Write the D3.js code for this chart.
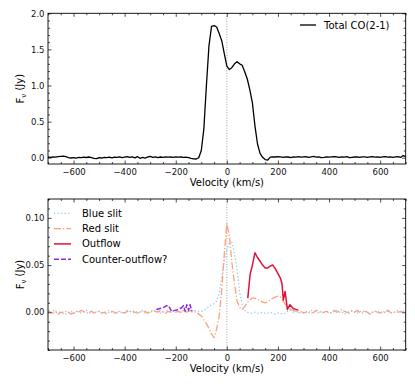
<!DOCTYPE html>
<html>
<head>
<meta charset="utf-8">
<script src="https://cdn.jsdelivr.net/npm/d3@7"></script>
<style>
  body { margin: 0; background: #fff; }
  text { font-family: "DejaVu Sans", sans-serif; }
</style>
</head>
<body>
<div id="chart"></div>
<script>
// velocity channels (km/s), shared by the total spectrum and the two slits
const velocity = [
  -700,-690,-680,-670,-660,-650,-640,-630,-620,-610,
  -600,-590,-580,-570,-560,-550,-540,-530,-520,-510,
  -500,-490,-480,-470,-460,-450,-440,-430,-420,-410,
  -400,-390,-380,-370,-360,-350,-340,-330,-320,-310,
  -300,-290,-280,-270,-260,-250,-240,-230,-220,-210,
  -200,-190,-180,-170,-160,-150,-140,-130,-120,-110,
  -100,-90,-80,-70,-60,-50,-40,-30,-20,-10,
  0,10,20,30,40,50,60,70,80,90,
  100,110,120,130,140,150,160,170,180,190,
  200,210,220,230,240,250,260,270,280,290,
  300,310,320,330,340,350,360,370,380,390,
  400,410,420,430,440,450,460,470,480,490,
  500,510,520,530,540,550,560,570,580,590,
  600,610,620,630,640,650,660,670,680,690,700
];

// Total CO(2-1) flux (Jy)
const totalCO = [
  0.010,0.005,0.010,0.008,0.015,0.020,0.022,0.015,0.002,-0.004,
  0.000,-0.006,0.004,0.000,0.008,0.003,0.010,0.002,-0.008,-0.014,
  0.000,-0.004,0.005,0.001,0.009,-0.002,0.008,0.004,0.012,0.001,
  0.008,0.014,0.004,0.011,-0.002,0.016,-0.008,0.004,-0.006,0.010,
  0.018,0.004,0.013,0.001,0.010,0.005,0.012,0.008,0.010,0.006,
  0.011,0.008,0.010,0.006,0.008,0.002,-0.008,-0.015,-0.018,0.000,
  0.100,0.400,1.000,1.550,1.820,1.830,1.810,1.720,1.620,1.440,
  1.270,1.220,1.250,1.300,1.330,1.300,1.280,1.190,1.090,0.940,
  0.760,0.440,0.190,0.060,0.005,-0.025,-0.032,0.008,0.012,0.010,
  0.014,0.012,0.006,0.013,0.010,0.002,0.012,0.009,0.014,0.007,
  0.011,0.015,0.006,0.012,0.018,0.008,0.012,0.002,0.006,0.012,
  0.009,0.013,0.015,0.011,0.004,0.012,0.008,0.014,0.002,0.006,
  0.010,0.013,0.005,0.011,0.013,0.006,0.011,0.015,0.008,0.012,
  0.004,0.011,0.015,0.008,0.013,0.006,0.012,0.014,0.004,0.030,0.015
];

// slit spectra (Jy)
const blueSlit = [
  0.001,-0.001,0.002,0.000,-0.001,0.001,0.000,-0.002,0.000,0.001,
  -0.001,0.000,0.001,-0.001,0.000,0.002,0.000,-0.001,0.001,0.000,
  0.001,0.000,-0.001,0.001,0.002,0.000,-0.001,0.000,0.001,-0.001,
  0.000,0.002,0.001,0.000,-0.001,0.001,0.000,0.002,-0.001,0.000,
  0.001,0.000,0.002,0.001,-0.001,0.000,0.001,0.002,0.000,0.001,
  0.002,0.000,0.001,0.002,0.000,0.001,0.000,0.001,0.002,0.001,
  0.001,0.002,0.004,0.006,0.008,0.009,0.012,0.020,0.038,0.055,
  0.066,0.074,0.074,0.062,0.045,0.022,0.008,0.002,0.000,-0.001,
  -0.001,0.000,-0.001,-0.001,0.000,-0.001,-0.001,0.000,-0.001,-0.002,
  -0.001,-0.001,-0.002,-0.001,0.002,0.002,0.000,0.001,0.000,-0.001,
  0.000,0.001,-0.001,0.002,0.001,0.000,-0.001,0.001,0.000,0.001,
  0.000,-0.001,0.001,0.002,0.000,0.001,-0.002,0.000,0.001,0.002,
  0.000,-0.001,0.001,0.000,0.002,0.000,-0.002,0.000,0.001,0.000,
  0.001,-0.001,0.000,0.001,0.000,-0.001,0.001,0.002,0.000,0.001,0.002
];

const redSlit = [
  0.002,0.000,-0.001,0.001,-0.002,0.000,-0.001,0.001,0.000,-0.002,
  -0.001,0.001,0.000,0.002,0.001,-0.001,0.000,0.001,-0.001,0.000,
  0.001,-0.001,0.000,-0.002,0.000,0.001,0.000,-0.001,0.001,0.000,
  -0.001,0.001,0.000,0.002,0.000,-0.001,0.001,0.000,0.001,-0.001,
  0.000,0.002,0.001,0.000,0.002,0.000,-0.001,0.001,0.000,0.002,
  0.000,0.001,0.000,0.002,0.000,0.001,0.002,0.001,0.000,-0.002,
  -0.004,-0.008,-0.012,-0.017,-0.023,-0.027,-0.018,-0.004,0.024,0.062,
  0.094,0.080,0.052,0.030,0.012,0.005,0.003,0.006,0.010,0.013,
  0.015,0.015,0.014,0.012,0.011,0.010,0.011,0.013,0.015,0.016,
  0.017,0.016,0.012,0.008,0.004,0.003,0.002,0.001,0.000,0.001,
  -0.001,0.000,0.001,-0.001,0.000,0.002,0.001,-0.001,0.000,0.001,
  -0.001,0.000,0.002,0.000,0.001,0.003,0.001,0.000,-0.001,0.001,
  0.000,0.002,0.000,-0.001,0.001,0.000,-0.002,0.000,0.001,0.000,
  -0.001,0.001,0.000,0.002,0.000,-0.001,0.001,0.000,0.001,0.000,0.001
];

// outflow and counter-outflow components
const outflowV = [82, 91, 100, 110, 120, 130, 140, 150, 160, 170, 180, 190, 200, 210, 216, 221, 228, 237, 247, 260, 270, 280];
const outflowF = [0.015, 0.040, 0.050, 0.063, 0.058, 0.054, 0.050, 0.047, 0.047, 0.049, 0.050, 0.046, 0.041, 0.036, 0.030, 0.013, 0.022, 0.003, 0.008, 0.004, 0.003, 0.002];
const counterV = [-276, -262, -249, -236, -229, -216, -203, -190, -183, -176, -170, -163, -157, -150, -144, -137];
const counterF = [0.003, 0.004, 0.005, 0.007, 0.007, 0.001, 0.002, 0.003, 0.004, 0.005, 0.007, 0.001, 0.008, 0.002, 0.008, 0.001];

// ticks
const xTicks = [-600, -400, -200, 0, 200, 400, 600];
const topYTicks = [0.0, 0.5, 1.0, 1.5, 2.0];
const bottomYTicks = [0.00, 0.05, 0.10];

const width = 415, height = 385;
const svg = d3.select("#chart").append("svg")
  .attr("width", width)
  .attr("height", height);

const left = 48, right = 405.7;

function drawPanel(top, bottom, yDomain, yTicks, yFmt, yMinorStep, series, legend) {
  const x = d3.scaleLinear().domain([-700, 700]).range([left, right]);
  const y = d3.scaleLinear().domain(yDomain).range([bottom, top]);
  const w = right - left, h = bottom - top;

  const g = svg.append("g");

  // clip for the lines
  const clipId = "clip" + Math.round(top);
  g.append("clipPath").attr("id", clipId)
    .append("rect").attr("x", left).attr("y", top).attr("width", w).attr("height", h);

  // zero velocity marker
  g.append("line")
    .attr("x1", x(0)).attr("x2", x(0))
    .attr("y1", top).attr("y2", bottom)
    .attr("stroke", "#888")
    .attr("stroke-width", 0.8)
    .attr("stroke-dasharray", "1,1.6");

  const lines = g.append("g").attr("clip-path", `url(#${clipId})`);
  series.forEach(s => {
    const pts = s.v.map((v, i) => [v, s.f[i]]);
    lines.append("path")
      .datum(pts)
      .attr("fill", "none")
      .attr("stroke", s.color)
      .attr("stroke-width", s.lw)
      .attr("stroke-dasharray", s.dash)
      .attr("stroke-linejoin", "round")
      .attr("d", d3.line().x(d => x(d[0])).y(d => y(d[1])));
  });

  // major / minor ticks, pointing in, on all four sides
  const xMinor = d3.range(-700, 701, 50).filter(v => v % 200 !== 0);
  const yMinor = d3.range(Math.ceil(yDomain[0] / yMinorStep) * yMinorStep, yDomain[1] + 1e-9, yMinorStep)
    .filter(v => !yTicks.some(t => Math.abs(t - v) < 1e-9));

  const xb = g.append("g").attr("transform", `translate(0,${bottom})`)
    .call(d3.axisBottom(x).tickValues(xTicks).tickSize(-3.5).tickPadding(4.5)
      .tickFormat(d => d3.format("d")(d).replace("-", "\u2212")));
  g.append("g").attr("transform", `translate(0,${bottom})`)
    .call(d3.axisBottom(x).tickValues(xMinor).tickSize(-2).tickFormat(""));
  g.append("g").attr("transform", `translate(0,${top})`)
    .call(d3.axisTop(x).tickValues(xTicks).tickSize(-3.5).tickFormat(""));
  g.append("g").attr("transform", `translate(0,${top})`)
    .call(d3.axisTop(x).tickValues(xMinor).tickSize(-2).tickFormat(""));

  g.append("g").attr("transform", `translate(${left},0)`)
    .call(d3.axisLeft(y).tickValues(yTicks).tickSize(-3.5).tickPadding(3.5).tickFormat(yFmt));
  g.append("g").attr("transform", `translate(${left},0)`)
    .call(d3.axisLeft(y).tickValues(yMinor).tickSize(-2).tickFormat(""));
  g.append("g").attr("transform", `translate(${right},0)`)
    .call(d3.axisRight(y).tickValues(yTicks).tickSize(-3.5).tickFormat(""));
  g.append("g").attr("transform", `translate(${right},0)`)
    .call(d3.axisRight(y).tickValues(yMinor).tickSize(-2).tickFormat(""));

  g.selectAll(".domain").remove();
  g.selectAll(".tick line").attr("stroke", "#000").attr("stroke-width", 0.7);
  g.selectAll(".tick text")
    .attr("fill", "#111")
    .style("font-size", "8.5px")
    .style("font-family", "'DejaVu Sans', sans-serif");

  // frame
  g.append("rect")
    .attr("x", left).attr("y", top)
    .attr("width", w).attr("height", h)
    .attr("fill", "none")
    .attr("stroke", "#000")
    .attr("stroke-width", 0.9);

  // axis labels
  g.append("text")
    .attr("x", (left + right) / 2)
    .attr("y", bottom + 22)
    .attr("text-anchor", "middle")
    .style("font-size", "10px")
    .text("Velocity (km/s)");

  const yl = g.append("text")
    .attr("transform", `translate(24,${(top + bottom) / 2}) rotate(-90)`)
    .attr("text-anchor", "middle")
    .style("font-size", "10px");
  yl.append("tspan").text("F");
  yl.append("tspan").attr("dy", "0.3em").style("font-size", "7px").text("\u03bd");
  yl.append("tspan").attr("dy", "-0.3em").text(" (Jy)");

  // legend
  legend.items.forEach((s, i) => {
    const ly = legend.y + i * legend.step;
    g.append("line")
      .attr("x1", legend.x).attr("x2", legend.x + legend.len)
      .attr("y1", ly).attr("y2", ly)
      .attr("stroke", s.color)
      .attr("stroke-width", s.lw)
      .attr("stroke-dasharray", s.dash);
    g.append("text")
      .attr("x", legend.x + legend.len + legend.gap)
      .attr("y", ly)
      .attr("dy", "0.35em")
      .style("font-size", "10px")
      .text(s.name);
  });
}

// top panel: total spectrum
const totalSeries = { name: "Total CO(2-1)", v: velocity, f: totalCO, color: "#000", lw: 1.3, dash: null };
drawPanel(13.3, 164, [-0.087, 2.0], topYTicks, d3.format(".1f"), 0.1,
  [totalSeries],
  { x: 300, y: 25, step: 0, len: 16, gap: 8, items: [totalSeries] });

// bottom panel: slits and outflow components
const bottomSeries = [
  { name: "Blue slit", v: velocity, f: blueSlit, color: "#87cefa", lw: 1.3, dash: "1.3,2.2" },
  { name: "Red slit", v: velocity, f: redSlit, color: "#ffa07a", lw: 1.3, dash: "7,2,1.3,2" },
  { name: "Outflow", v: outflowV, f: outflowF, color: "#dc143c", lw: 1.5, dash: null },
  { name: "Counter-outflow?", v: counterV, f: counterF, color: "#8a2be2", lw: 1.5, dash: "5,2" }
];
drawPanel(199, 350, [-0.04, 0.12], bottomYTicks, d3.format(".2f"), 0.01,
  bottomSeries,
  { x: 54, y: 213.3, step: 15.3, len: 17, gap: 11, items: bottomSeries });
</script>
</body>
</html>
